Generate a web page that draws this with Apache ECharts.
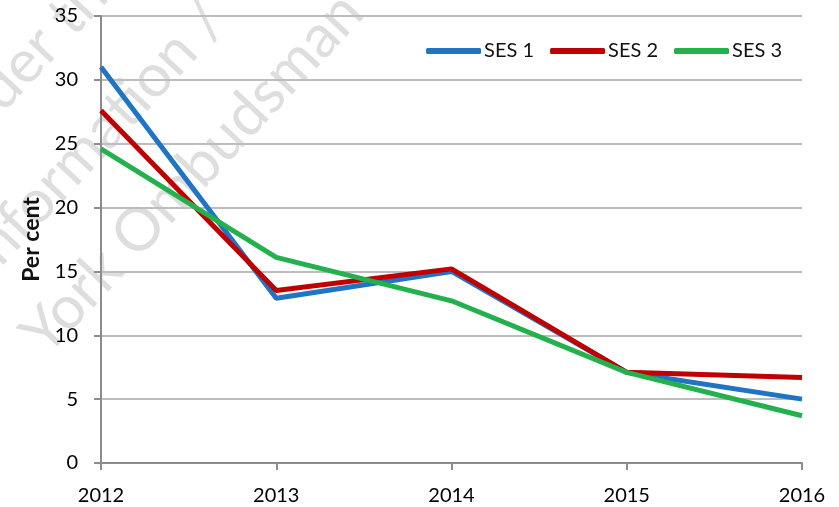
<!DOCTYPE html>
<html>
<head>
<meta charset="utf-8">
<script src="https://cdn.jsdelivr.net/npm/echarts@6/dist/echarts.min.js"></script>
<style>
html, body { margin: 0; padding: 0; background: #fff; }
#chart { width: 839px; height: 507px; }
</style>
</head>
<body>
<div id="chart"></div>
<script>
var years = ['2012', '2013', '2014', '2015', '2016'];
var ses1 = [31.0, 12.9, 15.0, 7.1, 5.0];
var ses2 = [27.6, 13.5, 15.2, 7.1, 6.7];
var ses3 = [24.6, 16.1, 12.7, 7.1, 3.7];
var seriesNames = ['SES 1', 'SES 2', 'SES 3'];
var colors = ['#1f74c4', '#c00000', '#22b14c'];

var chart = echarts.init(document.getElementById('chart'));
var font = 'Lato, "Open Sans", sans-serif';

function lineSeries(name, data, color) {
    return {
        name: name,
        type: 'line',
        data: data,
        symbol: 'none',
        z: 3,
        lineStyle: { width: 5, color: color },
        itemStyle: { color: color }
    };
}

// faint watermark behind the plot, anchored at the end of each line
function watermark(text, x, y) {
    return {
        type: 'text', x: x, y: y, rotation: 0.82, z: -10, silent: true,
        style: {
            text: text,
            fill: 'rgba(200,200,200,0.6)',
            font: '60px ' + font,
            align: 'right',
            verticalAlign: 'middle'
        }
    };
}

var option = {
    backgroundColor: '#fff',
    animation: false,
    graphic: [
        watermark('Released under the', 118, -38),
        watermark('Information /', 215, 10),
        watermark('York Ombudsman', 352, 2)
    ],
    grid: { left: 101, right: 37, top: 16, bottom: 44 },
    legend: {
        data: seriesNames,
        right: 52,
        top: 36,
        icon: 'roundRect',
        itemWidth: 55,
        itemHeight: 6,
        itemGap: 16,
        textStyle: { fontFamily: font, fontSize: 20, color: '#111', padding: [0, 0, 0, -2] }
    },
    xAxis: {
        type: 'category',
        data: years,
        boundaryGap: false,
        axisLine: { lineStyle: { color: '#8c8c8c', width: 2 } },
        axisTick: { show: true, length: 7, lineStyle: { color: '#8c8c8c', width: 2 } },
        axisLabel: { fontFamily: font, fontSize: 20, color: '#000', margin: 23 },
        splitLine: { show: false }
    },
    yAxis: {
        type: 'value',
        min: 0,
        max: 35,
        interval: 5,
        name: 'Per cent',
        nameLocation: 'middle',
        nameGap: 58,
        nameTextStyle: { fontFamily: font, fontSize: 23, fontWeight: 'bold', color: '#111' },
        axisLine: { show: true, lineStyle: { color: '#8c8c8c', width: 2 } },
        axisTick: { show: true, length: 7, lineStyle: { color: '#8c8c8c', width: 2 } },
        axisLabel: { fontFamily: font, fontSize: 20, color: '#000', margin: 23 },
        splitLine: { lineStyle: { color: '#bdbdbd', width: 2 } }
    },
    series: [
        lineSeries(seriesNames[0], ses1, colors[0]),
        lineSeries(seriesNames[1], ses2, colors[1]),
        lineSeries(seriesNames[2], ses3, colors[2])
    ]
};
chart.setOption(option);
</script>
</body>
</html>
